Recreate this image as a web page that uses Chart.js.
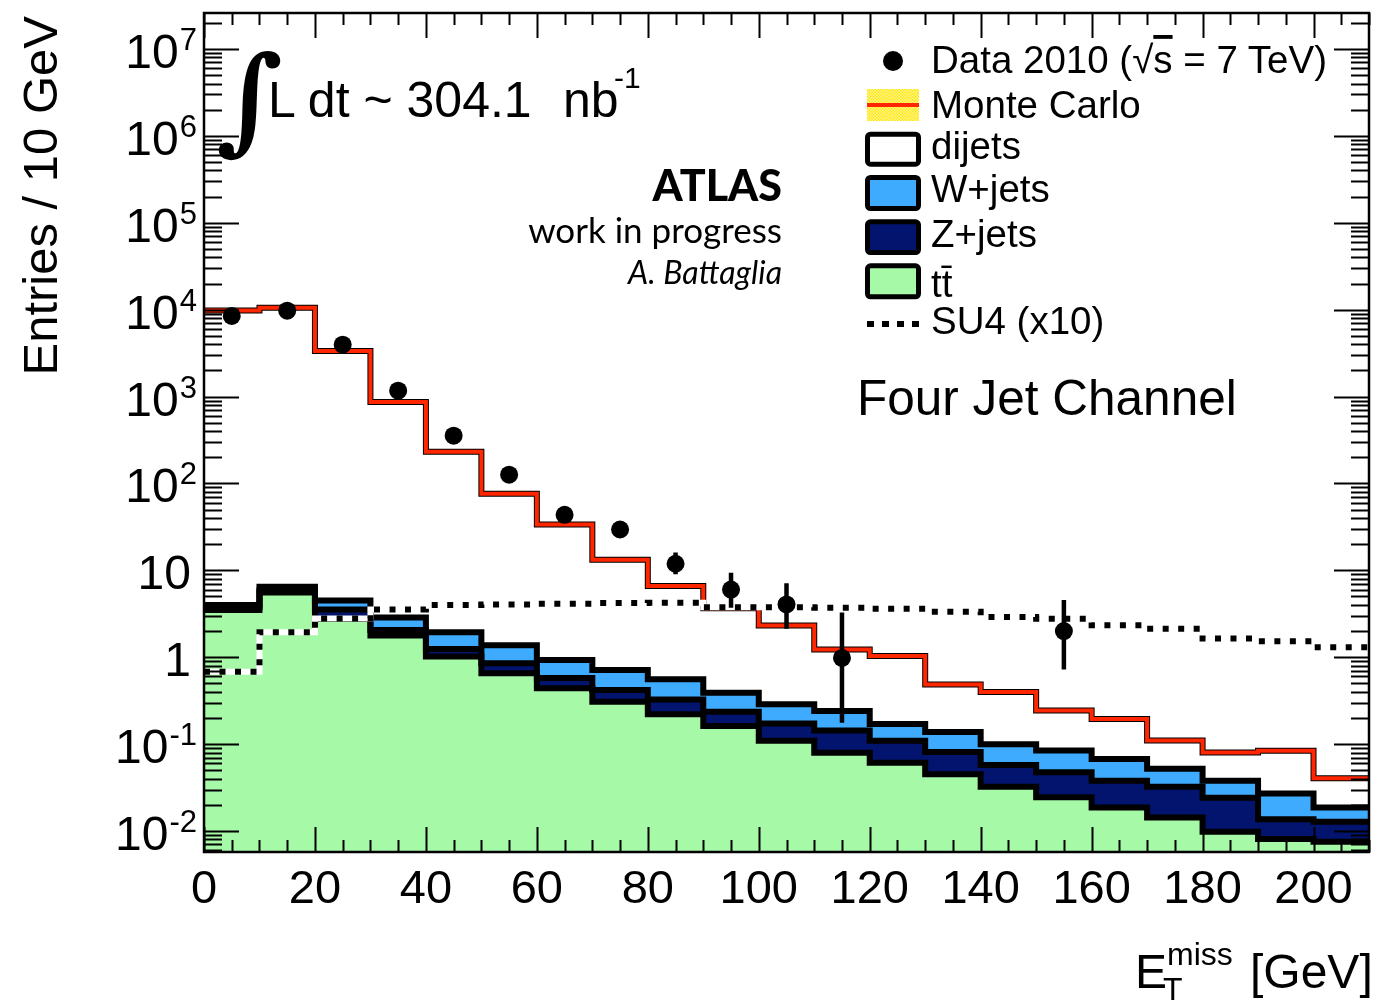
<!DOCTYPE html>
<html>
<head>
<meta charset="utf-8">
<script src="https://cdn.jsdelivr.net/npm/chart.js@4.4.1/dist/chart.umd.min.js"></script>
<style>
  html, body { margin: 0; padding: 0; background: #fff; }
  #wrap { position: relative; width: 1378px; height: 1002px; }
  #plot { position: absolute; left: 0; top: 0; }
  #overlay { position: absolute; left: 0; top: 0; pointer-events: none; }
  #overlay text { font-family: "Liberation Sans", Arial, sans-serif; fill: #000; }
</style>
</head>
<body>
<div id="wrap">
  <canvas id="plot" width="1378" height="1002"></canvas>
  <svg id="overlay" width="1378" height="1002" xmlns="http://www.w3.org/2000/svg">
    <defs>
      <pattern id="chk" width="3" height="3" patternUnits="userSpaceOnUse">
        <rect width="3" height="3" fill="#fff7a0"/>
        <rect width="1.5" height="1.5" fill="#ffe600"/>
        <rect x="1.5" y="1.5" width="1.5" height="1.5" fill="#ffe600"/>
      </pattern>
    </defs>

    <!-- axis titles -->
    <text transform="translate(57,16) rotate(-90)" text-anchor="end" font-size="49">Entries / 10 GeV</text>
    <text x="1135" y="988" font-size="48">E</text>
    <text x="1163" y="1000" font-size="32">T</text>
    <text x="1167" y="965" font-size="32">miss</text>
    <text x="1250" y="988" font-size="48">[GeV]</text>

    <!-- luminosity -->
    <text x="216" y="139" font-size="116" style="font-family:'DejaVu Serif',serif;font-weight:bold">∫</text>
    <text x="268" y="117" font-size="50">L dt ~ 304.1</text>
    <text x="563" y="117" font-size="50">nb</text>
    <text x="614" y="88" font-size="30">-1</text>

    <!-- ATLAS label -->
    <text x="782" y="201" text-anchor="end" font-size="43" style="font-family:Lato,'DejaVu Sans',sans-serif;font-weight:900">ATLAS</text>
    <text x="782" y="243" text-anchor="end" font-size="35" style="font-family:Lato,'DejaVu Sans',sans-serif">work in progress</text>
    <text x="782" y="284" text-anchor="end" font-size="32" style="font-family:Lato,'DejaVu Sans',sans-serif;font-style:italic">A. Battaglia</text>

    <text x="857" y="415" font-size="49.5">Four Jet Channel</text>

    <!-- legend -->
    <circle cx="893" cy="61" r="10" fill="#000"/>
    <text x="931" y="73" font-size="38.5">Data 2010 (√<tspan text-decoration="overline">s</tspan> = 7 TeV)</text>

    <rect x="867" y="89" width="52" height="32" fill="url(#chk)"/>
    <line x1="867" y1="105" x2="919" y2="105" stroke="#ff2600" stroke-width="4"/>
    <text x="931" y="118" font-size="38.5">Monte Carlo</text>

    <rect x="867.5" y="134.2" width="51" height="30" rx="3" fill="#fff" stroke="#000" stroke-width="5"/>
    <text x="931" y="159" font-size="38.5">dijets</text>

    <rect x="867.5" y="177.5" width="51" height="31" rx="3" fill="#3fabff" stroke="#000" stroke-width="5"/>
    <text x="931" y="202" font-size="38.5">W+jets</text>

    <rect x="867.5" y="221.8" width="51" height="30.7" rx="3" fill="#02146e" stroke="#000" stroke-width="5"/>
    <text x="931" y="247" font-size="38.5">Z+jets</text>

    <rect x="867.5" y="265.8" width="51" height="31" rx="3" fill="#a6f9a6" stroke="#000" stroke-width="5"/>
    <text x="931" y="297" font-size="38.5">tt̄</text>

    <line x1="867" y1="324" x2="920" y2="324" stroke="#000" stroke-width="6" stroke-dasharray="7 8"/>
    <text x="931" y="334" font-size="38.5">SU4 (x10)</text>
  </svg>
</div>

<script>
// bin edges of the missing ET histogram [GeV]
const binEdges = [0, 10, 20, 30, 40, 50, 60, 70, 80, 90, 100, 110, 120, 130, 140, 150, 160, 170, 180, 190, 200, 210];

// Monte Carlo total (red line) per bin
const mcTotal = [9800, 10500, 3340, 868, 232, 76, 33.7, 13.2, 6.6, 3.65, 2.32, 1.23, 1.03, 0.484, 0.398, 0.243, 0.195, 0.110, 0.080, 0.0837, 0.0405];

// stacked backgrounds (bottom to top): ttbar, Z+jets, W+jets
const ttbar = [3.5, 5.57, 2.75, 1.78, 1.02, 0.652, 0.438, 0.308, 0.221, 0.161, 0.109, 0.0794, 0.061, 0.0449, 0.0322, 0.0245, 0.0186, 0.0143, 0.0098, 0.0081, 0.0075];
const zjets = [0.25, 0.33, 0.8, 0.27, 0.22, 0.198, 0.14, 0.11, 0.104, 0.075, 0.064, 0.0636, 0.048, 0.0361, 0.0251, 0.023, 0.0192, 0.0179, 0.0144, 0.0055, 0.0053];
const wjets = [0.25, 0.58, 0.95, 0.82, 0.70, 0.52, 0.352, 0.296, 0.232, 0.155, 0.114, 0.098, 0.061, 0.057, 0.0423, 0.0366, 0.0297, 0.0197, 0.0136, 0.0134, 0.0058];

// SU4 signal (x10), dotted line
const su4 = [0.678, 1.94, 2.79, 3.55, 3.98, 4.05, 4.13, 4.2, 4.24, 3.77, 3.77, 3.71, 3.6, 3.34, 2.9, 2.77, 2.34, 2.12, 1.64, 1.53, 1.30];

// data points (bin centres) with error bars
const dataX = [5, 15, 25, 35, 45, 55, 65, 75, 85, 95, 105, 115, 155];
const dataY = [8460, 9730, 3950, 1170, 355, 126, 43.5, 29.5, 11.9, 6.0, 4.05, 0.98, 2.0];
const errLow = [null, null, null, null, null, null, null, null, 9.0, 3.72, 2.12, 0.176, 0.72];
const errHigh = [null, null, null, null, null, null, null, null, 16.0, 9.4, 7.08, 3.27, 4.54];

// y axis labels
const yTickValues = [0.01, 0.1, 1, 10, 100, 1e3, 1e4, 1e5, 1e6, 1e7];
const yTickBases = ['10', '10', '1', '10', '10', '10', '10', '10', '10', '10'];
const yTickExps = ['-2', '-1', '', '', '2', '3', '4', '5', '6', '7'];

const yMin = Math.pow(10, -2.242);
const yMax = Math.pow(10, 7.4145);

const FONT = '"Liberation Sans", Arial, sans-serif';

function steps(vals) {
    const pts = vals.map((v, i) => ({ x: binEdges[i], y: v }));
    pts.push({ x: binEdges[vals.length], y: vals[vals.length - 1] });
    return pts;
}

const stackZ = ttbar.map((v, i) => v + zjets[i]);
const stackW = stackZ.map((v, i) => v + wjets[i]);

// ROOT style frame, inward ticks on all four sides, and y labels
const frameTicks = {
    id: 'frameTicks',
    afterDraw(chart) {
        const { ctx, chartArea: a, scales: { x, y } } = chart;
        ctx.save();
        ctx.strokeStyle = '#000';
        ctx.lineWidth = 2;
        ctx.beginPath();
        for (let v = 0; v <= 210; v += 5) {
            const px = Math.round(x.getPixelForValue(v)) + 0.5;
            const len = v % 20 === 0 ? 25 : 12;
            ctx.moveTo(px, a.bottom); ctx.lineTo(px, a.bottom - len);
            ctx.moveTo(px, a.top); ctx.lineTo(px, a.top + len);
        }
        for (let e = -3; e <= 7; e++) {
            for (let m = 1; m <= 9; m++) {
                const v = m * Math.pow(10, e);
                if (v < yMin || v > yMax) continue;
                const py = Math.round(y.getPixelForValue(v)) + 0.5;
                const len = m === 1 ? 35 : 18;
                ctx.moveTo(a.left, py); ctx.lineTo(a.left + len, py);
                ctx.moveTo(a.right, py); ctx.lineTo(a.right - len, py);
            }
        }
        ctx.stroke();
        ctx.lineWidth = 2.5;
        ctx.strokeRect(a.left, a.top, a.right - a.left, a.bottom - a.top);

        ctx.fillStyle = '#000';
        ctx.textAlign = 'right';
        ctx.textBaseline = 'alphabetic';
        yTickValues.forEach((v, i) => {
            const py = y.getPixelForValue(v);
            let right = 191;
            if (yTickExps[i]) {
                ctx.font = '31px ' + FONT;
                const ew = ctx.measureText(yTickExps[i]).width;
                ctx.fillText(yTickExps[i], 197, py + 1);
                right = 197 - ew - 1;
            }
            ctx.font = '48px ' + FONT;
            ctx.fillText(yTickBases[i], right, py + 19);
        });
        ctx.restore();
    }
};

const errorBars = {
    id: 'errorBars',
    afterDatasetsDraw(chart) {
        const { ctx, scales: { x, y } } = chart;
        ctx.save();
        ctx.strokeStyle = '#000';
        ctx.lineWidth = 4.5;
        ctx.beginPath();
        dataX.forEach((xv, i) => {
            if (errLow[i] == null) return;
            const px = x.getPixelForValue(xv);
            ctx.moveTo(px, y.getPixelForValue(errLow[i]));
            ctx.lineTo(px, y.getPixelForValue(errHigh[i]));
        });
        ctx.stroke();
        ctx.restore();
    }
};

const histLine = (data, extra) => Object.assign({
    type: 'line',
    data: steps(data),
    stepped: 'before',
    pointRadius: 0,
    borderColor: '#000',
    borderWidth: 6,
    borderJoinStyle: 'miter',
    fill: false
}, extra);

new Chart(document.getElementById('plot').getContext('2d'), {
    type: 'line',
    data: {
        datasets: [
            histLine(ttbar, { label: 'ttbar', fill: 'start', backgroundColor: '#a6f9a6', order: 9 }),
            histLine(stackZ, { label: 'Z+jets', fill: '-1', backgroundColor: '#02146e', order: 8 }),
            histLine(stackW, { label: 'W+jets', fill: '-1', backgroundColor: '#3fabff', order: 7 }),
            histLine(mcTotal, { label: 'dijets', order: 6 }),
            histLine(mcTotal, { label: 'Monte Carlo', borderColor: '#ff2600', borderWidth: 4, order: 5 }),
            histLine(su4, { label: 'SU4 under', borderColor: '#fff', borderWidth: 6, order: 4 }),
            histLine(su4, { label: 'SU4 (x10)', borderWidth: 6, borderDash: [6, 9.5], order: 3 }),
            {
                type: 'scatter',
                label: 'Data 2010',
                data: dataX.map((xv, i) => ({ x: xv, y: dataY[i] })),
                showLine: false,
                pointRadius: 9,
                pointBackgroundColor: '#000',
                pointBorderWidth: 0,
                order: 1
            }
        ]
    },
    options: {
        responsive: false,
        animation: false,
        events: [],
        layout: { padding: { top: 13, right: 5, left: 0, bottom: 0 } },
        plugins: {
            legend: { display: false },
            tooltip: { enabled: false },
            filler: { drawTime: 'beforeDatasetsDraw' }
        },
        scales: {
            x: {
                type: 'linear',
                min: 0,
                max: 210,
                grid: { display: false, drawTicks: false },
                border: { display: false },
                ticks: {
                    stepSize: 20,
                    includeBounds: false,
                    autoSkip: false,
                    maxRotation: 0,
                    padding: 10,
                    color: '#000',
                    font: { family: FONT, size: 47 }
                },
                afterFit(scale) { scale.height = 150; }
            },
            y: {
                type: 'logarithmic',
                min: yMin,
                max: yMax,
                grid: { display: false, drawTicks: false },
                border: { display: false },
                ticks: { display: false },
                afterFit(scale) { scale.width = 204; }
            }
        }
    },
    plugins: [frameTicks, errorBars]
});
</script>
</body>
</html>
